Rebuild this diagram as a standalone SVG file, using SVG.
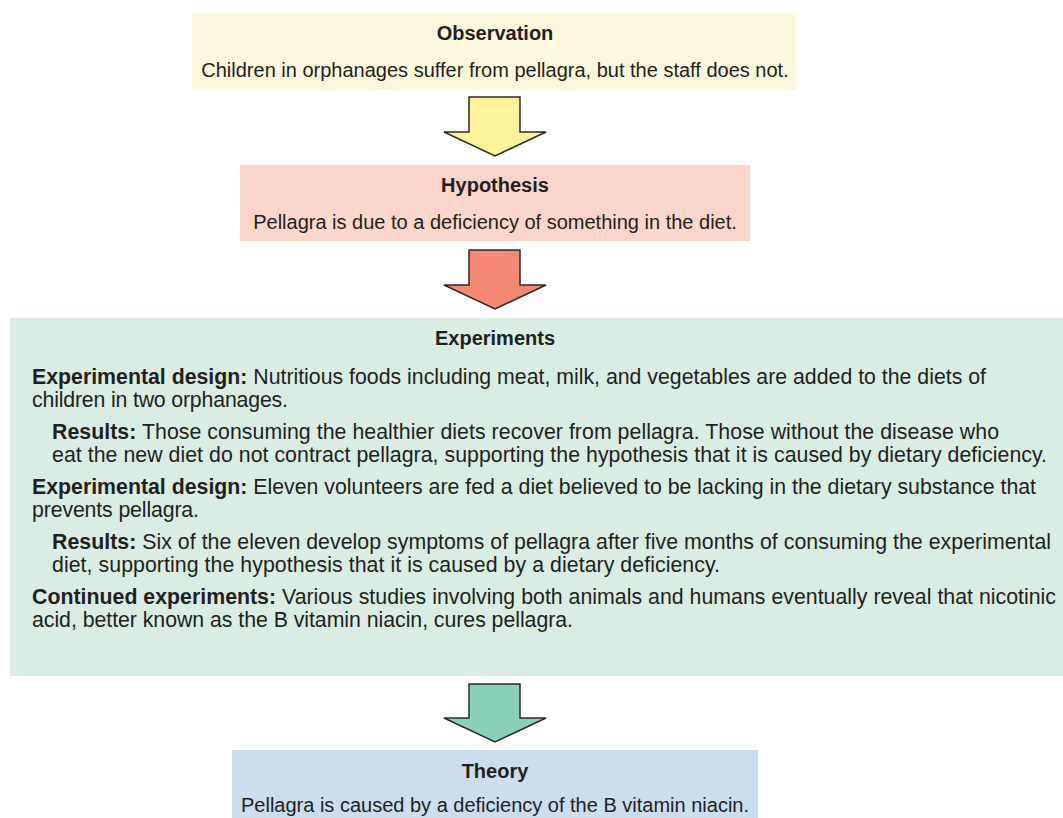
<svg xmlns="http://www.w3.org/2000/svg" width="1063" height="818" viewBox="0 0 1063 818">
<style>
text{font-family:"Liberation Sans",Arial,Helvetica,sans-serif;font-size:20px;fill:#231f20}
.t{font-weight:bold;text-anchor:middle}
.c{text-anchor:middle}
.b{font-weight:bold}
.e{font-size:21.3px}
.arr{stroke:#2b2b2b;stroke-width:1.5;stroke-linejoin:miter}
</style>
<rect width="1063" height="818" fill="#ffffff"/>
<g id="observation">
<rect x="192" y="13" width="605" height="77" fill="#fbf8dc"/>
<text class="t" x="495" y="40">Observation</text>
<text class="c" x="495" y="77">Children in orphanages suffer from pellagra, but the staff does not.</text>
</g>
<g id="hypothesis">
<rect x="240" y="165" width="510" height="76" fill="#fcd6ca"/>
<text class="t" x="495" y="192">Hypothesis</text>
<text class="c" x="495" y="229">Pellagra is due to a deficiency of something in the diet.</text>
</g>
<g id="experiments">
<rect x="10" y="318" width="1053" height="358" fill="#daede4"/>
<text class="t" x="495" y="345">Experiments</text>
<text class="e" x="32" y="384" textLength="954" lengthAdjust="spacing"><tspan class="b">Experimental design:</tspan> Nutritious foods including meat, milk, and vegetables are added to the diets of</text>
<text class="e" x="32" y="407" textLength="256" lengthAdjust="spacing">children in two orphanages.</text>
<text class="e" x="52" y="439" textLength="947" lengthAdjust="spacing"><tspan class="b">Results:</tspan> Those consuming the healthier diets recover from pellagra. Those without the disease who</text>
<text class="e" x="52" y="462" textLength="995" lengthAdjust="spacing">eat the new diet do not contract pellagra, supporting the hypothesis that it is caused by dietary deficiency.</text>
<text class="e" x="32" y="494" textLength="1004" lengthAdjust="spacing"><tspan class="b">Experimental design:</tspan> Eleven volunteers are fed a diet believed to be lacking in the dietary substance that</text>
<text class="e" x="32" y="517" textLength="167" lengthAdjust="spacing">prevents pellagra.</text>
<text class="e" x="52" y="549" textLength="999" lengthAdjust="spacing"><tspan class="b">Results:</tspan> Six of the eleven develop symptoms of pellagra after five months of consuming the experimental</text>
<text class="e" x="52" y="572" textLength="668" lengthAdjust="spacing">diet, supporting the hypothesis that it is caused by a dietary deficiency.</text>
<text class="e" x="32" y="604" textLength="1024" lengthAdjust="spacing"><tspan class="b">Continued experiments:</tspan> Various studies involving both animals and humans eventually reveal that nicotinic</text>
<text class="e" x="32" y="627" textLength="541" lengthAdjust="spacing">acid, better known as the B vitamin niacin, cures pellagra.</text>
</g>
<g id="theory">
<rect x="232" y="750" width="526" height="68" fill="#ccddee"/>
<text class="t" x="495" y="778">Theory</text>
<text class="c" x="495" y="812">Pellagra is caused by a deficiency of the B vitamin niacin.</text>
</g>
<g id="connectors">
<polygon class="arr" fill="#faf39a" points="469,97 520,97 520,132 546,132 495,156 444,132 469,132"/>
<polygon class="arr" fill="#f48872" points="469,250 520,250 520,285 546,285 495,309 444,285 469,285"/>
<polygon class="arr" fill="#8acfb7" points="469,684 520,684 520,718 546,718 495,742 444,718 469,718"/>
</g>
</svg>
